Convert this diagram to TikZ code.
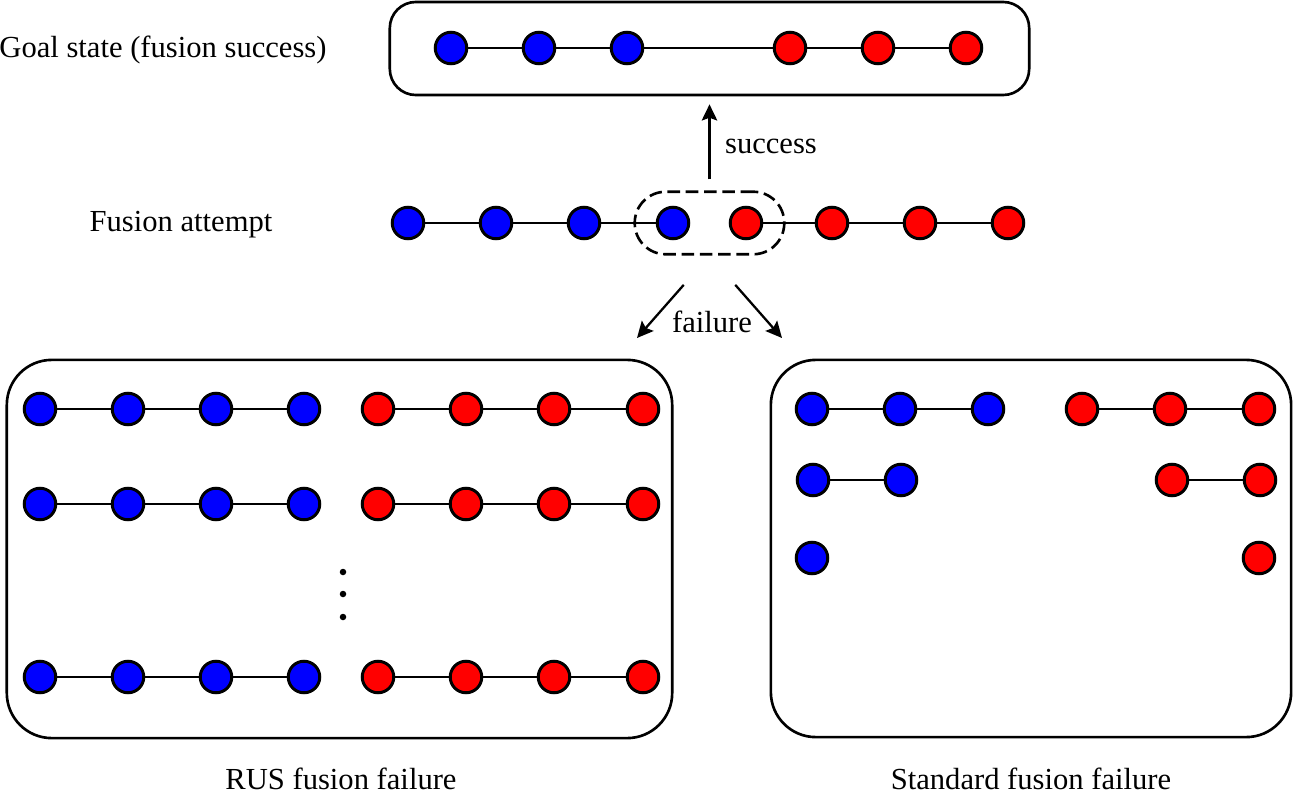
\documentclass[tikz,border=0pt]{standalone}
\usepackage{fontspec}
\setmainfont{Liberation Serif}
\usetikzlibrary{arrows.meta,positioning,fit}

\begin{document}
\begin{tikzpicture}[x=0.01cm, y=-0.01cm,
  every node/.style={font=\fontsize{8.7}{10}\selectfont},
  qubit/.style={circle, draw=black, line width=0.85pt, minimum size=0.315cm,
                inner sep=0pt},
  bq/.style={qubit, fill=blue},
  rq/.style={qubit, fill=red},
  dot/.style={circle, fill=black, minimum size=0.065cm, inner sep=0pt},
  link/.style={line width=0.65pt},
  thinlink/.style={line width=0.35pt},
  panel/.style={draw, line width=0.75pt, rounded corners=0.45cm},
  fusebox/.style={draw, dash pattern=on 3.6pt off 1.6pt, line width=0.75pt,
                  rounded corners=0.31cm},
  arrow/.style={-{Stealth[length=4.6pt, width=4.4pt, inset=0.8pt]}, line width=0.65pt},
]
\useasboundingbox (0,0) rectangle (1293,800);

%% ── Goal state ────────────────────────────────────────────────────────────
\node[panel, rounded corners=0.26cm, minimum width=6.39cm, minimum height=0.93cm]
  (goal) at (709.5,48.5) {};
\foreach \i/\x in {1/451, 2/539, 3/627}
  \node[bq] (g\i) at (\x,48) {};
\foreach \i/\x in {4/790, 5/878, 6/966}
  \node[rq] (g\i) at (\x,48) {};
\draw[link] (g1) -- (g2) -- (g3) -- (g4) -- (g5) -- (g6);
\node (goallab) at (163,50) {Goal state (fusion success)};

%% ── Fusion attempt ────────────────────────────────────────────────────────
\foreach \i/\x in {1/408, 2/496, 3/584, 4/673}
  \node[bq] (f\i) at (\x,223) {};
\foreach \i/\x in {5/746, 6/832, 7/920, 8/1008}
  \node[rq] (f\i) at (\x,223) {};
\draw[link] (f1) -- (f2) -- (f3) -- (f4);
\draw[link] (f5) -- (f6) -- (f7) -- (f8);
\node[fusebox, fit=(f4)(f5), inner xsep=0.21cm, inner ysep=0.14cm] (fuse) {};
\node (attlab) at (181,225) {Fusion attempt};

%% ── Outcomes ──────────────────────────────────────────────────────────────
\coordinate (rusin) at (637,338);
\coordinate (stdin) at (782,338);
\draw[arrow, shorten <=0.11cm, shorten >=0.08cm] (fuse.north) -- (goal.south);
\draw[arrow, shorten <=0.39cm] (fuse.south) -- (rusin);
\draw[arrow, shorten <=0.39cm] (fuse.south) -- (stdin);
\node (succ) at (771,146) {success};
\node (fail) at (712,322) {failure};

%% ── RUS fusion failure ────────────────────────────────────────────────────
\node[panel, minimum width=6.65cm, minimum height=3.78cm] (rus) at (339.5,549) {};
\foreach \r/\y in {1/409, 2/504, 3/677} {
  \foreach \i/\x in {1/40, 2/128, 3/216, 4/304}
    \node[bq] (rb\r\i) at (\x,\y) {};
  \foreach \i/\x in {1/378, 2/466, 3/554, 4/643}
    \node[rq] (rr\r\i) at (\x,\y) {};
  \draw[link] (rb\r1) -- (rb\r2) -- (rb\r3) -- (rb\r4);
  \draw[link] (rr\r1) -- (rr\r2) -- (rr\r3) -- (rr\r4);
}
\foreach \i/\y in {1/572, 2/594, 3/617}
  \node[dot] (d\i) at (343,\y) {};
\node (ruslab) at (341,779) {RUS fusion failure};

%% ── Standard fusion failure ───────────────────────────────────────────────
\node[panel, minimum width=5.2cm, minimum height=3.77cm] (std) at (1031,548.5) {};
\foreach \i/\x in {1/812, 2/900, 3/988}
  \node[bq] (sb1\i) at (\x,409) {};
\foreach \i/\x in {1/1082, 2/1170, 3/1259}
  \node[rq] (sr1\i) at (\x,409) {};
\draw[link] (sb11) -- (sb12) -- (sb13);
\draw[link] (sr11) -- (sr12) -- (sr13);
\node[bq] (sb21) at (813,480) {};
\node[bq] (sb22) at (901,480) {};
\node[rq] (sr21) at (1172,480) {};
\node[rq] (sr22) at (1260,480) {};
\draw[thinlink] (sb21) -- (sb22);
\draw[thinlink] (sr21) -- (sr22);
\node[bq] (sb31) at (812,558) {};
\node[rq] (sr31) at (1259,558) {};
\node (stdlab) at (1031,779) {Standard fusion failure};

\end{tikzpicture}
\end{document}
